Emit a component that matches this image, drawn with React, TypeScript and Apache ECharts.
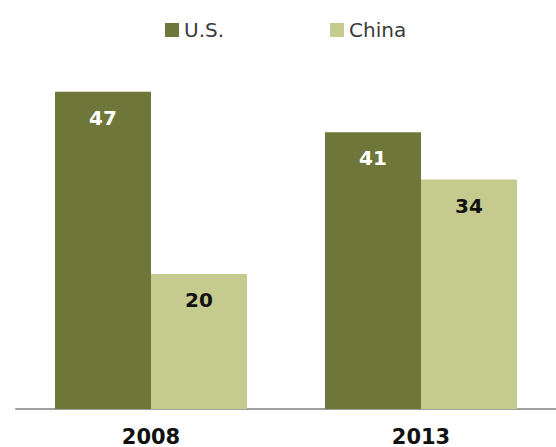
import React, { useEffect, useRef } from "react";
import * as echarts from "echarts";

const categories = ["2008", "2013"];
const usValues = [47, 41];
const chinaValues = [20, 34];
const seriesNames = ["U.S.", "China"];

export default function App() {
  const ref = useRef<HTMLDivElement>(null);
  useEffect(() => {
    document.body.style.margin = "0";
    const chart = echarts.init(ref.current!, null, { renderer: "svg" });
    const font = "'DejaVu Sans', Verdana, sans-serif";
    chart.setOption({
      animation: false,
      legend: {
        left: 160,
        top: 15,
        itemWidth: 14,
        itemHeight: 14,
        itemGap: 106,
        icon: "rect",
        textStyle: { fontFamily: font, fontSize: 20, color: "#3a3a3a" },
        data: seriesNames,
      },
      grid: { left: 16, width: 545, top: 71.5, height: 337.5 },
      xAxis: {
        type: "category",
        data: categories,
        axisLine: { lineStyle: { color: "#a0a0a0", width: 2 } },
        axisTick: { show: false },
        axisLabel: {
          fontFamily: font,
          fontSize: 21,
          fontWeight: "bold",
          color: "#111",
          margin: 17,
        },
      },
      yAxis: {
        type: "value",
        min: 0,
        max: 50,
        show: false,
        splitLine: { show: false },
      },
      series: [
        {
          name: seriesNames[0],
          type: "bar",
          data: usValues,
          barWidth: 96,
          barGap: "0%",
          itemStyle: { color: "#6f7639" },
          label: {
            show: true,
            position: "insideTop",
            distance: 16,
            fontFamily: font,
            fontSize: 20,
            fontWeight: "bold",
            color: "#ffffff",
          },
        },
        {
          name: seriesNames[1],
          type: "bar",
          data: chinaValues,
          barWidth: 96,
          barGap: "0%",
          itemStyle: { color: "#c5cb8f" },
          label: {
            show: true,
            position: "insideTop",
            distance: 16,
            fontFamily: font,
            fontSize: 20,
            fontWeight: "bold",
            color: "#111111",
          },
        },
      ],
    });
    return () => chart.dispose();
  }, []);
  return <div ref={ref} style={{ width: 556, height: 447 }} />;
}
